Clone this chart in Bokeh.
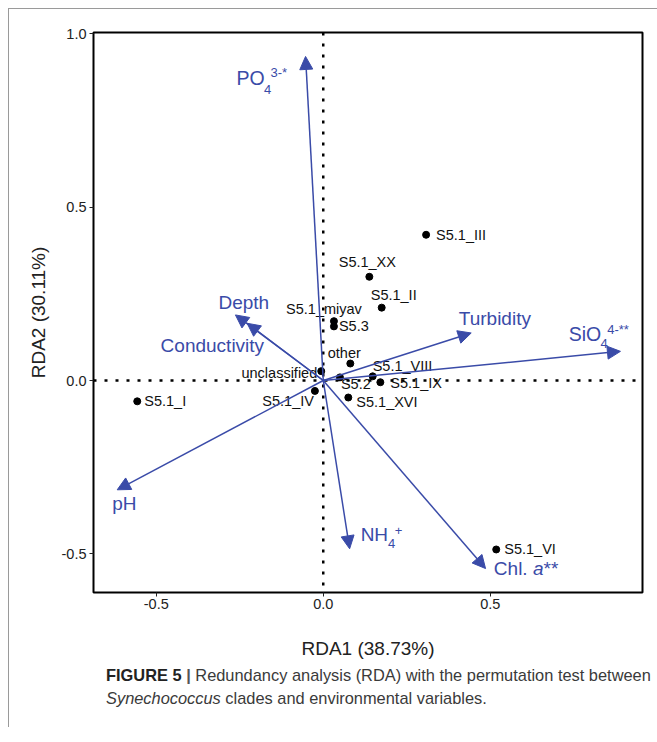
from bokeh.plotting import figure
from bokeh.models import (ColumnDataSource, Arrow, NormalHead, Span, FixedTicker,
                          NumeralTickFormatter, Div)
from bokeh.layouts import column
from bokeh.core.properties import value
from bokeh.embed import file_html
from bokeh.resources import INLINE

# ---------------- data ----------------
clades = ["S5.1_III", "S5.1_XX", "S5.1_II", "S5.1_miyav", "S5.3", "other",
          "unclassified", "S5.1_VIII", "S5.2", "S5.1_IX", "S5.1_IV",
          "S5.1_XVI", "S5.1_I", "S5.1_VI"]
clade_x = [0.308, 0.138, 0.175, 0.032, 0.032, 0.081, -0.006, 0.148, 0.050,
           0.171, -0.025, 0.075, -0.557, 0.518]
clade_y = [0.420, 0.299, 0.210, 0.171, 0.156, 0.049, 0.027, 0.012, 0.009,
           -0.005, -0.030, -0.049, -0.060, -0.487]

env_vars = ["PO4", "Depth", "Conductivity", "Turbidity", "SiO4", "pH", "NH4", "Chl. a"]
env_x = [-0.053, -0.263, -0.228, 0.443, 0.890, -0.617, 0.079, 0.486]
env_y = [0.934, 0.189, 0.165, 0.137, 0.084, -0.315, -0.485, -0.542]

x_ticks = [-0.5, 0.0, 0.5]
y_ticks = [-0.5, 0.0, 0.5, 1.0]
x_title = "RDA1 (38.73%)"
y_title = "RDA2 (30.11%)"

# ---------------- label layout (screen-pixel offsets) ----------------
clade_dx = [10, -2, 12, -10, 5, -6, -4, 0, 1, 10, -1, 8, 7, 8]
clade_dy = [0, -15, -13, -12, 0, -11, 2, -10, 7, 1, 10, 4, 0, 0]
clade_align = ["left", "center", "center", "center", "left", "center", "right",
               "left", "left", "left", "right", "left", "left", "left"]

# env label pieces: variable index, text, dx, dy, size, style, align
piece_var = [0, 0, 0, 1, 2, 3, 4, 4, 4, 5, 6, 6, 6, 7, 7, 7]
piece_text = ["PO", "4", "3-*", "Depth", "Conductivity", "Turbidity", "SiO", "4",
              "4-**", "pH", "NH", "4", "+", "Chl.", "a", "**"]
piece_dx = [-69, -41.5, -35, -17, 17, -12.4, -51.7, -20, -13.3, -5, 11, 38.4, 45,
            8.3, 47.4, 58]
piece_dy = [22, 33, 16.5, -12.7, 22.3, -14.2, -17.6, -8, -22, 13.4, -14.3, -5,
            -18.3, 0, 0, 0]
piece_size = ["19.5px", "13px", "13px", "19px", "19px", "19px", "19.5px", "13px",
              "13px", "19px", "19px", "13px", "13px", "19px", "19px", "19px"]
piece_style = ["normal"] * 14 + ["italic", "normal"]
piece_align = ["left"] * 4 + ["right"] + ["left"] * 11

BLUE = "#3a4ba8"
FONT = "Liberation Sans"

p = figure(width=647, height=652, x_range=(-0.688, 0.956), y_range=(-0.611, 1.003),
           output_backend="svg", toolbar_location=None,
           min_border_left=84, min_border_right=14, min_border_top=23,
           min_border_bottom=69)
p.xgrid.visible = False
p.ygrid.visible = False
p.outline_line_color = "black"
p.outline_line_width = 2
p.outline_line_alpha = 1
p.background_fill_color = "white"
p.border_fill_color = "white"

p.xaxis.ticker = FixedTicker(ticks=x_ticks)
p.yaxis.ticker = FixedTicker(ticks=y_ticks)
p.axis.formatter = NumeralTickFormatter(format="0.0")
p.axis.axis_line_color = None
p.axis.minor_tick_line_color = None
p.axis.major_tick_in = 0
p.axis.major_tick_out = 4
p.axis.major_tick_line_color = "#222222"
p.axis.major_label_text_font = FONT
p.axis.major_label_text_font_size = "14.5px"
p.axis.major_label_text_color = "#222222"
p.axis.axis_label_text_font = FONT
p.axis.axis_label_text_font_size = "19px"
p.axis.axis_label_text_font_style = "normal"
p.axis.axis_label_text_color = "#222222"
p.xaxis.axis_label = x_title
p.yaxis.axis_label = y_title
p.xaxis.major_label_standoff = 2
p.xaxis.axis_label_standoff = 26
p.yaxis.major_label_standoff = 3
p.yaxis.axis_label_standoff = 10

p.add_layout(Span(location=0, dimension="height", line_dash="3 8", line_width=2.5,
                  line_color="black"))
p.add_layout(Span(location=0, dimension="width", line_dash="3 8", line_width=2.5,
                  line_color="black"))

env_src = ColumnDataSource(dict(x=env_x, y=env_y, name=env_vars))
p.add_layout(Arrow(end=NormalHead(size=13, fill_color=BLUE, line_color=BLUE, line_width=1),
                   x_start=0, y_start=0, x_end="x", y_end="y", source=env_src,
                   line_color=BLUE, line_width=1.5))

cl_src = ColumnDataSource(dict(x=clade_x, y=clade_y, name=clades, dx=clade_dx,
                               dy=clade_dy, align=clade_align))
p.scatter("x", "y", source=cl_src, size=7, color="black")
p.text("x", "y", text="name", source=cl_src, x_offset="dx", y_offset="dy",
       text_align="align", text_baseline="middle", text_font=value(FONT),
       text_font_size="14.5px", text_color="#111111")

pc_src = ColumnDataSource(dict(
    x=[env_x[i] for i in piece_var], y=[env_y[i] for i in piece_var],
    text=piece_text, dx=piece_dx, dy=piece_dy, size=piece_size,
    style=piece_style, align=piece_align))
p.text("x", "y", text="text", source=pc_src, x_offset="dx", y_offset="dy",
       text_align="align", text_baseline="middle", text_font=value(FONT),
       text_font_size="size", text_font_style="style", text_color=BLUE)

cap = Div(width=640, height=56, text=(
    "<div style=\"font-family:'Liberation Sans';font-size:16.4px;color:#3a3a3a;"
    "line-height:23px;padding-left:92px;margin-top:-2px;white-space:nowrap\">"
    "<b style='color:#222'>FIGURE 5</b> <b style='color:#555'>|</b> "
    "Redundancy analysis (RDA) with the permutation test between<br>"
    "<i>Synechococcus</i> clades and environmental variables.</div>"))

layout = column(p, cap, styles={"border-left": "1px solid #9a9a9a",
                                "border-top": "1px solid #9a9a9a",
                                "margin-left": "8px", "margin-top": "8px"})

open("out.html", "w").write(file_html(layout, INLINE))
